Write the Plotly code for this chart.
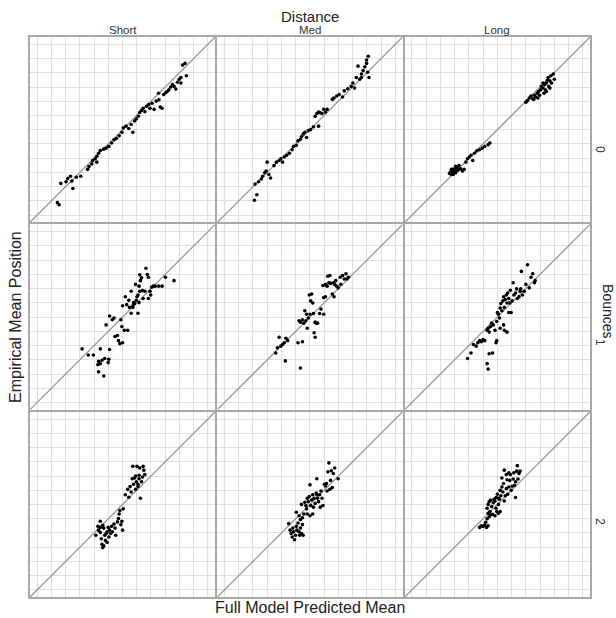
import plotly.graph_objects as go
from plotly.subplots import make_subplots

distances = ["Short", "Med", "Long"]
bounces = ["0", "1", "2"]

# ---- data: predicted (x) vs empirical (y), per facet ----
pred_short_0 = [8.0, 8.5, 9.0, 10.5, 11.0, 11.8, 12.2, 12.5, 13.5, 14.8, 16.8, 17.2, 18.0, 18.3, 19.0, 19.5, 20.0, 20.5, 21.5, 22.2, 23.8, 24.5, 25.2, 26.8, 27.2, 28.0, 28.8, 29.5, 30.0, 30.5, 31.0, 31.6, 32.0, 32.5, 33.0, 33.5, 34.0, 34.6, 35.0, 35.6, 36.2, 36.8, 37.6, 38.0, 38.5, 39.0, 39.6, 40.0, 40.5, 41.0, 41.5, 42.0, 42.5, 43.0, 43.5, 44.0, 44.5, 45.2, 45.6, 44.0, 37.5, 26.0, 23.0, 19.5]
emp_short_0 = [5.7, 5.1, 11.3, 11.8, 12.7, 13.4, 12.0, 9.8, 13.1, 13.4, 15.4, 16.2, 17.0, 18.0, 18.5, 19.2, 20.1, 20.9, 21.3, 21.6, 23.1, 24.0, 24.4, 26.2, 27.5, 28.0, 27.3, 28.5, 26.2, 29.5, 30.1, 30.9, 32.0, 32.6, 33.2, 32.2, 33.8, 34.3, 33.2, 34.7, 32.9, 35.3, 35.7, 33.6, 33.2, 37.2, 37.8, 38.1, 38.6, 39.4, 40.1, 39.6, 38.8, 40.8, 41.7, 42.2, 45.8, 46.3, 42.7, 40.6, 37.6, 25.2, 22.1, 17.5]

pred_med_0 = [10.8, 11.5, 11.0, 12.0, 12.8, 13.2, 13.8, 14.2, 14.5, 15.0, 15.5, 16.5, 17.2, 18.0, 18.5, 19.0, 19.5, 20.2, 21.0, 21.8, 22.2, 23.0, 23.5, 24.2, 24.5, 25.0, 25.5, 26.0, 26.5, 27.2, 28.0, 28.5, 29.0, 29.5, 30.0, 30.5, 31.0, 31.5, 32.0, 29.5, 33.5, 34.0, 34.8, 35.5, 36.5, 37.0, 38.0, 39.0, 39.5, 40.0, 40.5, 41.0, 41.5, 42.0, 42.5, 43.0, 43.5, 43.8, 44.0, 44.2, 43.5, 42.0]
emp_med_0 = [6.4, 8.0, 11.1, 11.8, 12.6, 13.4, 14.4, 14.9, 17.5, 13.9, 12.9, 16.5, 17.5, 18.0, 18.5, 17.5, 19.0, 19.5, 20.1, 21.1, 22.1, 22.4, 23.7, 24.2, 24.9, 25.7, 26.2, 24.7, 26.7, 27.0, 27.8, 30.9, 31.7, 32.1, 31.9, 31.7, 32.9, 32.1, 32.9, 28.0, 35.8, 36.2, 36.8, 37.2, 36.5, 38.3, 38.9, 39.6, 40.6, 39.1, 42.2, 45.5, 41.7, 43.2, 44.2, 45.3, 46.3, 43.7, 48.4, 42.2, 47.3, 42.2]

pred_long_0 = [13.0, 13.3, 13.6, 13.8, 14.0, 14.3, 14.6, 14.8, 15.0, 15.3, 15.6, 15.8, 16.3, 16.8, 17.3, 17.8, 18.3, 18.8, 19.3, 19.8, 20.3, 21.0, 21.8, 22.6, 23.3, 24.3, 24.8, 13.6, 14.1, 14.8,
               35.3, 35.8, 36.3, 36.8, 37.3, 37.8, 38.1, 38.6, 39.0, 39.3, 39.6, 39.8, 40.3, 40.6, 40.8, 41.0, 41.3, 41.6, 41.8, 42.0, 42.3, 42.6, 42.8, 43.3, 43.6, 41.3, 40.3, 42.3, 38.8, 37.6]
emp_long_0 = [14.2, 14.6, 13.9, 14.9, 15.4, 14.4, 15.6, 16.3, 14.9, 15.9, 15.2, 16.5, 15.6, 14.9, 15.4, 17.5, 18.5, 19.0, 19.5, 18.0, 20.1, 20.8, 21.1, 21.6, 22.1, 22.6, 23.1, 15.4, 13.9, 14.4,
              35.0, 35.5, 36.2, 36.8, 36.0, 37.0, 36.5, 37.6, 38.1, 37.0, 38.6, 39.6, 39.1, 37.6, 40.1, 38.6, 40.6, 41.4, 42.2, 39.6, 41.2, 42.7, 40.6, 43.2, 41.7, 38.1, 40.6, 39.1, 36.2, 35.8]

pred_short_1 = [15.2, 17.0, 18.5, 20.5, 20.0, 21.0, 20.5, 19.8, 20.0, 21.5, 21.8, 23.0, 22.8, 23.2, 24.8, 25.5, 26.2, 25.8, 27.0, 27.5, 26.8, 28.5, 22.2, 23.2, 24.0, 24.5, 26.5, 27.0, 27.8, 28.2, 28.8, 29.0, 29.5, 29.5, 30.0, 30.2, 30.5, 31.0, 31.2, 31.5, 31.8, 32.0, 31.8, 32.2, 32.5, 32.0, 32.8, 33.0, 33.5, 33.8, 34.2, 34.5, 34.5, 35.0, 35.2, 35.5, 36.0, 36.5, 37.5, 38.5, 39.5, 42.0, 30.8, 31.5, 30.0]
emp_short_1 = [17.7, 15.9, 15.9, 17.7, 14.1, 14.4, 13.4, 13.1, 11.0, 9.8, 14.9, 14.7, 13.7, 17.5, 21.3, 21.6, 19.2, 20.1, 19.5, 23.1, 24.2, 23.1, 24.7, 27.3, 26.2, 26.7, 26.2, 30.3, 32.9, 30.6, 31.9, 29.8, 34.5, 28.1, 30.3, 31.2, 30.9, 31.9, 32.9, 28.1, 31.2, 34.5, 36.0, 37.6, 38.4, 39.3, 34.7, 32.4, 34.5, 41.2, 39.4, 38.6, 32.4, 34.5, 33.4, 35.7, 36.0, 36.0, 36.0, 36.0, 38.6, 37.6, 36.5, 33.4, 29.8]

pred_med_1 = [17.0, 17.5, 18.0, 18.5, 19.0, 19.5, 20.0, 20.5, 19.8, 23.5, 24.8, 24.2, 23.8, 24.2, 24.8, 25.2, 25.8, 25.5, 26.0, 26.5, 26.2, 27.0, 27.2, 26.8, 27.5, 27.8, 28.0, 28.2, 28.5, 28.5, 28.8, 29.2, 29.8, 30.2, 31.0, 31.0, 31.5, 30.8, 31.5, 32.0, 32.2, 32.5, 33.0, 33.5, 33.8, 34.2, 34.5, 34.8, 35.2, 35.8, 36.5, 37.0, 37.5, 37.8, 38.2, 36.0, 32.8, 34.0]
emp_med_1 = [16.5, 18.0, 21.1, 18.5, 19.0, 19.5, 20.8, 20.1, 14.2, 19.5, 19.8, 12.1, 25.9, 25.5, 26.2, 25.2, 25.9, 28.8, 27.8, 26.7, 23.7, 27.8, 31.7, 33.4, 33.7, 31.1, 28.0, 22.4, 21.1, 25.5, 25.2, 25.2, 28.0, 29.3, 27.8, 32.7, 32.9, 36.2, 36.5, 36.0, 38.9, 37.0, 36.8, 33.7, 37.0, 36.5, 37.6, 36.0, 35.5, 38.6, 39.1, 38.1, 39.6, 38.1, 38.6, 36.5, 39.1, 32.9]

pred_long_1 = [18.3, 19.3, 20.0, 20.8, 21.3, 21.8, 22.3, 22.8, 23.3, 24.0, 24.3, 24.6, 25.0, 25.3, 25.8, 26.3, 26.8, 26.6, 24.6, 25.6, 24.0, 24.3, 26.8, 27.0, 27.3, 27.6, 27.8, 28.0, 28.3, 28.6, 28.8, 29.0, 29.3, 29.6, 29.8, 29.8, 29.0, 30.0, 30.3, 30.6, 30.8, 31.0, 31.3, 31.6, 31.8, 32.3, 32.6, 32.8, 33.3, 33.6, 33.8, 34.0, 34.3, 34.8, 35.3, 35.8, 36.3, 36.8, 37.3, 37.8, 38.0, 28.8, 27.8, 30.3]
emp_long_1 = [14.9, 16.5, 19.0, 18.5, 19.5, 20.1, 19.8, 20.4, 20.1, 23.1, 23.7, 22.6, 24.2, 25.2, 24.7, 23.1, 20.1, 19.5, 16.3, 16.5, 13.4, 11.8, 25.7, 28.3, 27.8, 26.7, 29.6, 30.9, 28.8, 31.7, 32.9, 29.8, 32.1, 33.4, 31.1, 22.6, 23.1, 34.0, 32.4, 31.1, 34.8, 28.3, 31.7, 37.0, 33.4, 34.0, 35.2, 32.4, 32.9, 34.5, 35.2, 40.3, 33.4, 34.5, 36.5, 42.2, 35.5, 38.6, 39.6, 37.0, 37.6, 24.7, 23.7, 28.3]

pred_short_2 = [19.2, 19.8, 20.0, 20.5, 20.5, 20.8, 21.0, 21.2, 21.5, 21.8, 22.0, 22.2, 22.5, 22.8, 23.0, 23.2, 23.5, 23.8, 24.0, 24.5, 24.8, 25.0, 25.5, 25.8, 26.0, 26.2, 26.5, 26.8, 27.0, 27.2, 21.2, 21.5, 20.5, 22.5, 27.8, 28.5, 28.8, 29.2, 29.5, 29.8, 30.0, 30.2, 30.5, 30.8, 31.0, 31.2, 31.5, 31.8, 32.0, 32.2, 32.5, 32.8, 33.0, 33.2, 33.5, 31.5, 30.8, 31.8]
emp_short_2 = [18.0, 20.6, 19.5, 22.1, 18.8, 17.0, 15.4, 14.4, 20.1, 18.0, 16.5, 18.5, 19.0, 20.3, 17.5, 19.5, 18.5, 20.6, 19.0, 21.3, 20.1, 18.0, 21.9, 22.9, 24.2, 25.2, 21.1, 22.1, 19.5, 25.7, 20.9, 14.9, 20.3, 15.9, 29.8, 31.4, 29.1, 32.2, 30.6, 34.5, 38.1, 32.9, 34.7, 35.3, 33.6, 38.1, 32.9, 34.5, 37.6, 28.8, 33.6, 35.0, 38.1, 37.0, 35.7, 32.2, 31.4, 35.5]

pred_med_2 = [20.8, 21.2, 21.5, 21.8, 22.0, 22.2, 22.5, 22.8, 23.0, 23.2, 23.5, 23.8, 24.0, 24.2, 24.5, 24.8, 25.0, 23.0, 23.8, 24.2, 24.8, 25.2, 25.5, 25.8, 26.0, 26.2, 26.5, 26.8, 27.0, 27.2, 27.5, 27.8, 28.0, 28.2, 28.5, 28.8, 29.0, 29.2, 29.5, 29.8, 30.0, 30.2, 30.5, 30.8, 31.2, 31.5, 31.8, 32.0, 32.2, 32.5, 32.8, 33.0, 33.2, 33.5, 33.8, 34.2, 35.2, 29.0, 27.8, 26.2, 24.5, 27.0]
emp_med_2 = [21.4, 19.5, 18.5, 17.5, 20.1, 19.0, 16.7, 18.0, 20.6, 19.5, 21.6, 19.0, 18.0, 20.1, 18.5, 21.1, 18.0, 24.7, 23.7, 22.6, 23.1, 24.2, 27.6, 26.7, 25.7, 28.8, 27.8, 29.3, 32.7, 26.7, 28.3, 29.8, 26.2, 28.8, 27.3, 30.3, 34.5, 28.8, 27.8, 29.8, 26.2, 30.9, 28.8, 26.7, 32.9, 32.4, 33.1, 30.9, 36.5, 39.1, 31.4, 34.0, 36.8, 31.9, 36.0, 37.6, 34.5, 29.8, 24.2, 24.2, 27.0, 23.7]

pred_long_2 = [21.8, 22.3, 22.8, 23.3, 23.8, 24.3, 23.6, 24.0, 24.6, 24.3, 25.0, 25.6, 26.3, 26.8, 27.3, 27.8, 24.0, 24.3, 24.6, 25.0, 25.3, 25.8, 26.0, 26.3, 26.6, 27.0, 27.3, 27.6, 27.8, 28.0, 28.3, 28.6, 28.8, 29.0, 29.3, 29.6, 29.8, 30.0, 30.3, 30.6, 30.8, 31.0, 31.3, 31.6, 31.8, 32.0, 32.3, 32.6, 32.8, 33.0, 33.3, 33.6, 32.3, 29.0, 29.6, 28.3, 30.3, 27.3, 26.6, 24.8]
emp_long_2 = [20.3, 20.8, 20.6, 21.0, 20.3, 20.8, 21.8, 22.8, 23.4, 24.4, 23.9, 24.1, 23.7, 24.9, 24.4, 24.9, 25.9, 27.0, 27.8, 28.2, 26.4, 27.5, 28.5, 28.0, 29.0, 30.0, 27.0, 28.5, 31.1, 29.5, 32.1, 30.6, 33.1, 28.0, 29.5, 31.6, 34.2, 30.0, 32.1, 34.0, 35.7, 31.1, 32.3, 34.4, 36.2, 32.6, 33.6, 36.7, 38.3, 34.4, 36.0, 36.7, 29.0, 37.0, 35.7, 34.7, 36.2, 28.8, 25.9, 24.9]

panels = {
    ("0", "Short"): (pred_short_0, emp_short_0),
    ("0", "Med"): (pred_med_0, emp_med_0),
    ("0", "Long"): (pred_long_0, emp_long_0),
    ("1", "Short"): (pred_short_1, emp_short_1),
    ("1", "Med"): (pred_med_1, emp_med_1),
    ("1", "Long"): (pred_long_1, emp_long_1),
    ("2", "Short"): (pred_short_2, emp_short_2),
    ("2", "Med"): (pred_med_2, emp_med_2),
    ("2", "Long"): (pred_long_2, emp_long_2),
}

AX_MIN, AX_MAX = 0.0, 54.0

fig = make_subplots(rows=3, cols=3, horizontal_spacing=0.004, vertical_spacing=0.004)

for r, b in enumerate(bounces, start=1):
    for c, d in enumerate(distances, start=1):
        xs, ys = panels[(b, d)]
        fig.add_trace(go.Scatter(x=[AX_MIN, AX_MAX], y=[AX_MIN, AX_MAX], mode="lines",
                                 line=dict(color="#999999", width=1.3), hoverinfo="skip"),
                      row=r, col=c)
        fig.add_trace(go.Scatter(x=xs, y=ys, mode="markers",
                                 marker=dict(color="black", size=3.6)),
                      row=r, col=c)

axis_style = dict(range=[AX_MIN, AX_MAX], showgrid=True, gridcolor="#e0e0e0", gridwidth=1,
                  tick0=2.07, dtick=4.15, showticklabels=False, ticks="", zeroline=False,
                  showline=True, mirror=True, linecolor="#a8a8a8", linewidth=2)
fig.update_xaxes(**axis_style)
fig.update_yaxes(**axis_style)

font = "Liberation Sans, Arial, sans-serif"
ann = []
ann.append(dict(text="Distance", x=0.5, y=1.036, xref="paper", yref="paper",
                showarrow=False, font=dict(size=15, color="#222"), xanchor="center", yanchor="middle"))
for i, d in enumerate(distances):
    ann.append(dict(text=d, x=(i + 0.5) / 3, y=1.013, xref="paper", yref="paper",
                    showarrow=False, font=dict(size=11.5, color="#333"), xanchor="center", yanchor="middle"))
row_y = [0.80, 0.455, 0.135]
for i, b in enumerate(bounces):
    ann.append(dict(text=b, x=1.018, y=row_y[i], xref="paper", yref="paper", textangle=90,
                    showarrow=False, font=dict(size=12, color="#333"), xanchor="center", yanchor="middle"))
ann.append(dict(text="Bounces", x=1.031, y=0.51, xref="paper", yref="paper", textangle=90,
                showarrow=False, font=dict(size=14, color="#222"), xanchor="center", yanchor="middle"))
ann.append(dict(text="Full Model Predicted Mean", x=0.5, y=-0.019, xref="paper", yref="paper",
                showarrow=False, font=dict(size=16, color="#222"), xanchor="center", yanchor="middle"))
ann.append(dict(text="Empirical Mean Position", x=-0.027, y=0.5, xref="paper", yref="paper", textangle=-90,
                showarrow=False, font=dict(size=16, color="#222"), xanchor="center", yanchor="middle"))

fig.update_layout(width=616, height=618, margin=dict(l=30, r=26, t=37, b=21),
                  paper_bgcolor="white", plot_bgcolor="white", showlegend=False,
                  font=dict(family=font), annotations=ann)

# remove the browser's default page margin so the figure fills the window exactly
fig.write_html("out.html", config={"displayModeBar": False},
               post_script="document.body.style.margin='0';document.body.style.overflow='hidden';")
